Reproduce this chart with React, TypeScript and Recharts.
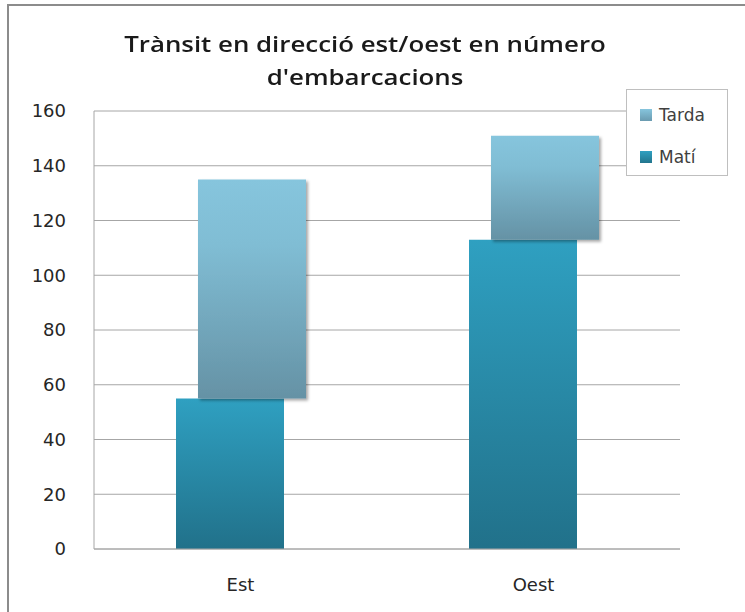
import React from 'react';
import { BarChart, Bar, XAxis, YAxis, CartesianGrid } from 'recharts';

const categories = ['Est', 'Oest'];
const matiValues = [55, 113];
const tardaValues = [80, 38];
const yTicks = [0, 20, 40, 60, 80, 100, 120, 140, 160];
const seriesNames = ['Tarda', 'Matí'];

const data = categories.map((name, i) => ({
  name,
  mati: matiValues[i],
  tarda: [matiValues[i], matiValues[i] + tardaValues[i]],
}));

const FONT = "'DejaVu Sans', sans-serif";
const TITLE_FONT = "'Open Sans', 'Noto Sans', sans-serif";

const legendSwatch = ['linear-gradient(#86C5DD,#6A9BB0)', 'linear-gradient(#2FA0C1,#22758D)'];

const LegendBox = () => (
  <div
    style={{
      position: 'absolute',
      left: 626,
      top: 89,
      width: 102,
      height: 87,
      border: '1px solid #BFBFBF',
      background: '#fff',
      fontFamily: FONT,
      fontSize: 17,
      color: '#404040',
      boxSizing: 'border-box',
      paddingTop: 15,
      paddingLeft: 13,
    }}
  >
    {seriesNames.map((s, i) => (
      <div key={s} style={{ display: 'flex', alignItems: 'center', height: 20, marginTop: i === 0 ? 0 : 22 }}>
        <span style={{ width: 12, height: 12, background: legendSwatch[i], marginRight: 7, display: 'inline-block' }} />
        {s}
      </div>
    ))}
  </div>
);

export default function App() {
  return (
    <div style={{ position: 'absolute', left: 0, top: 0, width: 745, height: 612, background: '#fff', overflow: 'hidden' }}>
      <div
        style={{
          position: 'absolute',
          left: 7,
          top: 4,
          width: 745,
          height: 620,
          border: '2px solid #8C8C8C',
          boxSizing: 'border-box',
        }}
      />
      <div
        style={{
          position: 'absolute',
          left: 0,
          top: 28,
          width: 730,
          textAlign: 'center',
          fontFamily: TITLE_FONT,
          fontSize: 21,
          fontWeight: 600,
          color: '#1a1a1a',
          lineHeight: '33px',
          transform: 'scaleX(1.23)',
          transformOrigin: '365px 0',
        }}
      >
        Trànsit en direcció est/oest en número
        <br />
        d'embarcacions
      </div>
      <div style={{ position: 'absolute', left: 0, top: 0 }}>
        <BarChart
          width={745}
          height={612}
          data={data}
          margin={{ top: 111, right: 65, bottom: 33, left: 0 }}
          barGap={-86}
          barCategoryGap={0}
        >
          <defs>
            <linearGradient id="gTarda" x1="0" y1="0" x2="0" y2="1">
              <stop offset="0%" stopColor="#86C5DD" />
              <stop offset="30%" stopColor="#80BDD4" />
              <stop offset="100%" stopColor="#6592A5" />
            </linearGradient>
            <linearGradient id="gMati" x1="0" y1="0" x2="0" y2="1">
              <stop offset="0%" stopColor="#2FA0C1" />
              <stop offset="100%" stopColor="#21718A" />
            </linearGradient>
            <filter id="shadow" x="-10%" y="-10%" width="130%" height="130%">
              <feDropShadow dx="2" dy="2" stdDeviation="1.5" floodColor="#000" floodOpacity="0.35" />
            </filter>
          </defs>
          <CartesianGrid vertical={false} stroke="#A6A6A6" strokeWidth={1} />
          <XAxis
            dataKey="name"
            height={30}
            axisLine={{ stroke: '#A6A6A6' }}
            tickLine={false}
            tickMargin={23}
            tick={{ fontFamily: FONT, fontSize: 18, fill: '#262626' }}
          />
          <YAxis
            width={94}
            domain={[0, 160]}
            ticks={yTicks}
            axisLine={{ stroke: '#A6A6A6' }}
            tickLine={false}
            tickMargin={22}
            tick={{ fontFamily: FONT, fontSize: 18, fill: '#262626' }}
          />
          <Bar dataKey="mati" name="Matí" fill="url(#gMati)" barSize={108} isAnimationActive={false} />
          <Bar
            dataKey="tarda"
            name="Tarda"
            fill="url(#gTarda)"
            barSize={108}
            filter="url(#shadow)"
            isAnimationActive={false}
          />
        </BarChart>
      </div>
      <LegendBox />
    </div>
  );
}
